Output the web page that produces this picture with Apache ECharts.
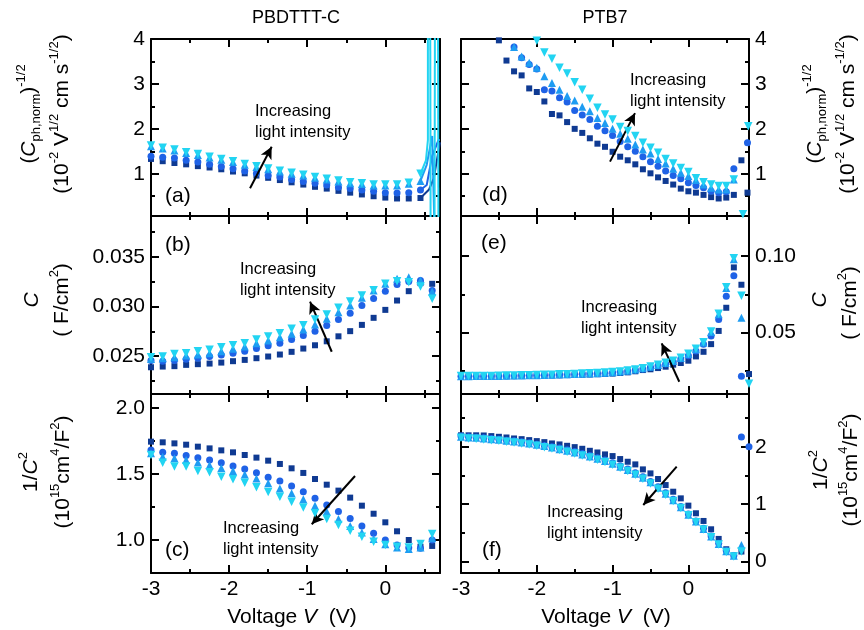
<!DOCTYPE html>
<html>
<head>
<meta charset="utf-8">
<script src="https://cdn.jsdelivr.net/npm/echarts@6/dist/echarts.min.js"></script>
<style>
html,body{margin:0;padding:0;background:#fff;}
#chart{width:864px;height:630px;}
</style>
</head>
<body>
<div id="chart"></div>
<script>
// ---- bias voltages (V) ----
const voltsLeft = [-3, -2.85, -2.7, -2.55, -2.4, -2.25, -2.1, -1.95, -1.8, -1.65, -1.5, -1.35, -1.2, -1.05, -0.9, -0.75, -0.6, -0.45, -0.3, -0.15, 0, 0.15, 0.3, 0.45, 0.6];
const voltsRight = [-3, -2.9, -2.8, -2.7, -2.6, -2.5, -2.4, -2.3, -2.2, -2.1, -2, -1.9, -1.8, -1.7, -1.6, -1.5, -1.4, -1.3, -1.2, -1.1, -1, -0.9, -0.8, -0.7, -0.6, -0.5, -0.4, -0.3, -0.2, -0.1, 0, 0.1, 0.2, 0.3, 0.4, 0.5, 0.6, 0.7];

// ---- PBDTTT-C: (C_ph,norm)^-1/2 ----
const aSq = [1.33,1.28,1.24,1.21,1.17,1.14,1.10,1.05,1.01,0.96,0.91,0.86,0.81,0.76,0.71,0.67,0.62,0.58,0.54,0.50,0.47,0.45,0.45,0.46];
const aCi = [1.39,1.37,1.35,1.30,1.26,1.21,1.16,1.11,1.06,1.01,0.96,0.93,0.87,0.83,0.79,0.75,0.70,0.67,0.64,0.61,0.58,0.57,0.58,0.64];
const aUp = [1.61,1.56,1.52,1.46,1.42,1.36,1.31,1.26,1.20,1.15,1.10,1.05,1.00,0.96,0.91,0.87,0.83,0.79,0.77,0.74,0.74,0.74,0.78,0.84];
const aDn = [1.63,1.58,1.54,1.48,1.44,1.38,1.33,1.28,1.22,1.17,1.12,1.07,1.02,0.98,0.93,0.89,0.85,0.81,0.79,0.76,0.76,0.76,0.80,1.00];
// traces running off scale near open circuit
const aSpikeSq = [[0.45,0.46],[0.56,0.65],[0.62,0.9],[0.7,1.7]];
const aSpikeCi = [[0.45,0.64],[0.53,0.75],[0.6,1.4],[0.68,1.75],[0.7,1.75]];
const aSpikeUp = [[0.45,0.84],[0.53,1.2],[0.6,1.84],[0.63,-0.3]];
const aSpikeDn1 = [[0.45,1.0],[0.52,1.3],[0.545,1.75],[0.545,4.3]];
const aSpikeDn2 = [[0.575,4.3],[0.58,-0.3]];
const aSpikeDn3 = [[0.63,-0.3],[0.635,4.3]];
const aSpikeDn4 = [[0.675,4.3],[0.68,-0.3]];

// ---- PBDTTT-C: C (F/cm2) ----
const bSq = [0.02389,0.02396,0.0240,0.02413,0.0242,0.02426,0.02436,0.0245,0.02463,0.0248,0.02497,0.02517,0.02544,0.02577,0.0261,0.0265,0.0270,0.02752,0.02815,0.02886,0.02966,0.0306,0.03154,0.03235,0.03228];
const bCi = [0.02456,0.0245,0.02456,0.0247,0.0248,0.02497,0.02513,0.0253,0.0255,0.02577,0.02604,0.02631,0.02668,0.02708,0.02752,0.02809,0.02869,0.02933,0.0301,0.03081,0.03154,0.03221,0.03252,0.03262,0.03161];
const bUp = [0.02473,0.0248,0.0249,0.02507,0.02517,0.0253,0.0255,0.02574,0.02597,0.02631,0.02658,0.02691,0.02725,0.02768,0.02819,0.02876,0.02943,0.0301,0.03087,0.03161,0.03228,0.03279,0.03295,0.03262,0.03151];
const bDn = [0.0249,0.02497,0.02523,0.0253,0.0255,0.02564,0.02591,0.02611,0.02631,0.02668,0.02698,0.02732,0.02775,0.02812,0.02869,0.02919,0.02987,0.0305,0.03111,0.03164,0.03228,0.03255,0.03245,0.03201,0.03077];
const bDnExtra = [[0.72,0.0290]];

// ---- PBDTTT-C: 1/C^2 ----
const cSq = [1.745,1.740,1.732,1.722,1.707,1.694,1.679,1.664,1.644,1.624,1.601,1.576,1.543,1.508,1.462,1.419,1.374,1.321,1.260,1.199,1.134,1.066,1.0,0.949,0.955];
const cCi = [1.682,1.664,1.657,1.641,1.624,1.606,1.586,1.561,1.538,1.510,1.475,1.447,1.409,1.366,1.316,1.265,1.215,1.162,1.106,1.051,1.0,0.962,0.942,0.937,1.0];
const cUp = [1.657,1.631,1.619,1.606,1.588,1.566,1.545,1.523,1.497,1.465,1.429,1.391,1.354,1.308,1.260,1.215,1.159,1.106,1.056,1.008,0.967,0.944,0.932,0.944,1.013];
const cDn = [1.644,1.586,1.556,1.556,1.523,1.513,1.480,1.460,1.434,1.399,1.364,1.328,1.290,1.247,1.202,1.159,1.114,1.071,1.025,0.987,0.962,0.949,0.944,0.970,1.045];
const cDnExtra = [[0.72,1.177]];

// ---- PTB7: (C_ph,norm)^-1/2 ----
const dSq = [null,null,null,null,null,3.97,3.52,3.28,3.19,2.90,2.82,2.61,2.33,2.30,2.15,2.00,1.91,1.79,1.67,1.60,1.49,1.38,1.30,1.21,1.10,1.01,0.92,0.84,0.76,0.67,0.61,0.58,0.53,0.48,0.45,0.47,0.53,1.30];
const dCi = [null,null,null,null,null,null,null,3.82,3.58,3.43,3.33,2.87,2.84,2.69,2.60,2.41,2.31,2.21,2.06,1.96,1.85,1.72,1.60,1.50,1.38,1.27,1.17,1.06,0.96,0.89,0.80,0.74,0.69,0.61,0.58,0.60,1.11,null];
const dUp = [null,null,null,null,null,null,null,3.82,3.61,3.47,3.36,3.17,3.02,2.87,2.73,2.63,2.49,2.39,2.24,2.13,2.00,1.89,1.78,1.65,1.54,1.45,1.33,1.23,1.11,1.02,0.95,0.86,0.76,0.69,0.65,0.65,0.87,null];
const dDn = [null,null,null,null,null,null,null,null,null,null,3.96,3.70,3.56,3.36,3.23,3.04,2.87,2.67,2.47,2.32,2.21,2.04,1.95,1.84,1.69,1.58,1.47,1.33,1.23,1.13,1.04,0.90,0.81,0.76,0.73,0.73,0.87,null];
const dSqExtra = [[0.78,0.58]];
const dCiExtra = [[0.78,1.69]];
const dDnExtra = [[0.72,0.10],[0.79,2.06]];

// ---- PTB7: C (F/cm2) ----
const eSq = [0.0213,0.0213,0.0214,0.0214,0.0215,0.0215,0.0216,0.0216,0.0217,0.0218,0.0219,0.0220,0.0221,0.0222,0.0223,0.0224,0.0226,0.0227,0.0229,0.0231,0.0233,0.0237,0.0241,0.0248,0.0256,0.0261,0.0269,0.0278,0.0291,0.0302,0.0317,0.0345,0.0375,0.0425,0.0511,0.0662,0.0925,0.0812];
const eCi = [0.0215,0.0215,0.0216,0.0216,0.0217,0.0217,0.0218,0.0219,0.0220,0.0221,0.0222,0.0223,0.0224,0.0225,0.0227,0.0228,0.0230,0.0232,0.0234,0.0236,0.0239,0.0243,0.0250,0.0256,0.0263,0.0274,0.0284,0.0295,0.0310,0.0328,0.0349,0.0381,0.0425,0.0478,0.0586,0.0737,0.0871,0.0216];
const eUp = [0.0216,0.0216,0.0217,0.0217,0.0218,0.0218,0.0219,0.0220,0.0221,0.0222,0.0223,0.0224,0.0225,0.0227,0.0228,0.0230,0.0232,0.0234,0.0236,0.0239,0.0242,0.0246,0.0252,0.0259,0.0267,0.0278,0.0289,0.0302,0.0315,0.0334,0.0360,0.0392,0.0435,0.0504,0.0619,0.0791,0.0978,0.0597];
const eDn = [0.0217,0.0217,0.0217,0.0218,0.0218,0.0219,0.0220,0.0221,0.0222,0.0223,0.0224,0.0225,0.0226,0.0228,0.0229,0.0231,0.0233,0.0235,0.0237,0.0240,0.0243,0.0247,0.0253,0.0260,0.0268,0.0279,0.0290,0.0303,0.0317,0.0336,0.0362,0.0395,0.0438,0.0508,0.0623,0.0795,0.0985,0.0741];
const eSqExtra = [[0.8,0.0230]];
const eDnExtra = [[0.8,0.0166]];

// ---- PTB7: 1/C^2 ----
const fSq = [2.20,2.20,2.20,2.197,2.186,2.174,2.162,2.145,2.133,2.116,2.099,2.081,2.058,2.041,2.017,1.994,1.965,1.930,1.901,1.867,1.838,1.786,1.739,1.693,1.606,1.536,1.438,1.333,1.217,1.101,0.974,0.841,0.707,0.562,0.394,0.214,0.104,0.174];
const fCi = [2.186,2.174,2.168,2.157,2.145,2.133,2.116,2.104,2.087,2.070,2.046,2.023,2.0,1.977,1.948,1.919,1.884,1.849,1.809,1.768,1.722,1.670,1.612,1.548,1.478,1.397,1.304,1.2,1.084,0.957,0.829,0.707,0.580,0.446,0.319,0.191,0.104,2.17];
const fUp = [2.174,2.162,2.157,2.145,2.133,2.122,2.104,2.093,2.075,2.058,2.035,2.012,1.988,1.959,1.930,1.901,1.867,1.832,1.791,1.751,1.704,1.652,1.594,1.530,1.461,1.380,1.287,1.183,1.067,0.945,0.817,0.696,0.568,0.435,0.307,0.180,0.099,0.29];
const fDn = [2.157,2.145,2.139,2.128,2.116,2.104,2.087,2.075,2.058,2.041,2.017,1.994,1.971,1.942,1.913,1.884,1.849,1.814,1.774,1.733,1.687,1.635,1.577,1.513,1.443,1.362,1.270,1.165,1.055,0.933,0.806,0.684,0.557,0.423,0.296,0.168,0.087,0.174];
const fCiExtra = [[0.8,2.0]];

// ---- tick values ----
const xMajor = [-3, -2, -1, 0];
const xMinor = [-2.5, -1.5, -0.5, 0.5];
const yMajorA = [1, 2, 3, 4], yMinorA = [0.5, 1.5, 2.5, 3.5];
const yMajorB = [0.025, 0.030, 0.035], yMinorB = [0.0225, 0.0275, 0.0325, 0.0375];
const yMajorC = [1.0, 1.5, 2.0], yMinorC = [0.75, 1.25, 1.75];
const yMajorE = [0.05, 0.10], yMinorE = [0.025, 0.075];
const yMajorF = [0, 1, 2], yMinorF = [0.5, 1.5, 2.5];

// ---- arrows (tail, head) in data units ----
const arrowA = [[-1.732, 0.676], [-1.455, 1.60]];
const arrowB = [[-0.686, 0.02545], [-0.964, 0.03048]];
const arrowC = [[-0.388, 1.485], [-0.942, 1.119]];
const arrowD = [[-1.034, 1.27], [-0.704, 2.35]];
const arrowE = [[-0.120, 0.0180], [-0.352, 0.0430]];
const arrowF = [[-0.154, 1.653], [-0.595, 0.985]];

const FONT = '"Liberation Sans", Arial, Helvetica, sans-serif';
const BLACK = '#000';
const MARKS = [
  { symbol: 'rect', size: 6, color: '#0f3a92', rotate: 0 },
  { symbol: 'circle', size: 7, color: '#1f62e6', rotate: 0 },
  { symbol: 'triangle', size: 8, color: '#1e9cf2', rotate: 0 },
  { symbol: 'triangle', size: 8.5, color: '#22d4f2', rotate: 180 }
];

function pts(xs, ys, extra) {
  const out = [];
  xs.forEach((x, i) => { if (ys[i] != null) out.push([x, ys[i]]); });
  return extra ? out.concat(extra) : out;
}

const panels = [
  { grid: { left: 151, top: 39, width: 289, height: 177 }, xMax: 0.7, yMin: 0.06, yMax: 4, major: yMajorA, minor: yMinorA, side: 'left', fmt: v => String(v), xLabels: false,
    data: [pts(voltsLeft, aSq), pts(voltsLeft, aCi), pts(voltsLeft, aUp), pts(voltsLeft, aDn)], arrow: arrowA },
  { grid: { left: 151, top: 216, width: 289, height: 178 }, xMax: 0.7, yMin: 0.0212, yMax: 0.0391, major: yMajorB, minor: yMinorB, side: 'left', fmt: v => v.toFixed(3), xLabels: false,
    data: [pts(voltsLeft, bSq), pts(voltsLeft, bCi), pts(voltsLeft, bUp), pts(voltsLeft, bDn, bDnExtra)], arrow: arrowB },
  { grid: { left: 151, top: 394, width: 289, height: 179 }, xMax: 0.7, yMin: 0.75, yMax: 2.106, major: yMajorC, minor: yMinorC, side: 'left', fmt: v => v.toFixed(1), xLabels: true,
    data: [pts(voltsLeft, cSq), pts(voltsLeft, cCi), pts(voltsLeft, cUp), pts(voltsLeft, cDn, cDnExtra)], arrow: arrowC },
  { grid: { left: 461, top: 39, width: 288, height: 177 }, xMax: 0.8, yMin: 0.06, yMax: 4, major: yMajorA, minor: yMinorA, side: 'right', fmt: v => String(v), xLabels: false,
    data: [pts(voltsRight, dSq, dSqExtra), pts(voltsRight, dCi, dCiExtra), pts(voltsRight, dUp), pts(voltsRight, dDn, dDnExtra)], arrow: arrowD },
  { grid: { left: 461, top: 216, width: 288, height: 178 }, xMax: 0.8, yMin: 0.010, yMax: 0.126, major: yMajorE, minor: yMinorE, side: 'right', fmt: v => v.toFixed(2), xLabels: false,
    data: [pts(voltsRight, eSq, eSqExtra), pts(voltsRight, eCi), pts(voltsRight, eUp), pts(voltsRight, eDn, eDnExtra)], arrow: arrowE },
  { grid: { left: 461, top: 394, width: 288, height: 179 }, xMax: 0.8, yMin: -0.2, yMax: 2.92, major: yMajorF, minor: yMinorF, side: 'right', fmt: v => String(v), xLabels: true,
    data: [pts(voltsRight, fSq), pts(voltsRight, fCi, fCiExtra), pts(voltsRight, fUp), pts(voltsRight, fDn)], arrow: arrowF }
];

const labelStyle = { fontSize: 21, fontFamily: FONT, color: BLACK };

// one visible axis (line, long ticks, optional labels) plus a bare axis carrying the short ticks
function axisSet(g, min, max, pos, major, minor, showLabels, fmt, showLine) {
  const base = { type: 'value', gridIndex: g, min: min, max: max, position: pos, splitLine: { show: false } };
  return [
    Object.assign({}, base, {
      axisLine: { show: showLine, onZero: false, lineStyle: { color: BLACK, width: 2 } },
      axisTick: { show: true, inside: true, length: 8, customValues: major, lineStyle: { color: BLACK, width: 2 } },
      axisLabel: Object.assign({ show: showLabels, customValues: major, formatter: fmt, margin: 6 }, labelStyle)
    }),
    Object.assign({}, base, {
      axisLine: { show: false, onZero: false },
      axisTick: { show: true, inside: true, length: 4, customValues: minor, lineStyle: { color: BLACK, width: 2 } },
      axisLabel: { show: false }
    })
  ];
}

const grids = [], xAxes = [], yAxes = [], series = [];
panels.forEach((p, g) => {
  grids.push(Object.assign({ outerBoundsMode: 'none', containLabel: false }, p.grid));
  const xi = xAxes.length, yi = yAxes.length;
  // bottom (primary), then top mirror
  xAxes.push(...axisSet(g, -3, p.xMax, 'bottom', xMajor, xMinor, p.xLabels, v => String(v), true));
  xAxes.push(...axisSet(g, -3, p.xMax, 'top', xMajor, xMinor, false, null, true));
  const other = p.side === 'left' ? 'right' : 'left';
  yAxes.push(...axisSet(g, p.yMin, p.yMax, p.side, p.major, p.minor, true, p.fmt, true));
  yAxes.push(...axisSet(g, p.yMin, p.yMax, other, p.major, p.minor, false, null, true));
  p.data.forEach((d, k) => {
    const m = MARKS[k];
    const s = {
      type: 'scatter', xAxisIndex: xi, yAxisIndex: yi, data: d,
      symbol: m.symbol, symbolSize: m.size, symbolRotate: m.rotate,
      itemStyle: { color: m.color, opacity: 1 }, silent: true, clip: true, z: 2 + k
    };
    if (k === 0) {
      s.markLine = {
        silent: true, symbol: ['none', 'arrow'], symbolSize: [9, 12], animation: false,
        label: { show: false }, emphasis: { disabled: true },
        lineStyle: { color: BLACK, width: 2, type: 'solid' },
        data: [[{ coord: p.arrow[0] }, { coord: p.arrow[1] }]]
      };
    }
    series.push(s);
  });
  if (g === 0) {
    const spikes = [[aSpikeSq, 0], [aSpikeCi, 1], [aSpikeUp, 2], [aSpikeDn1, 3], [aSpikeDn2, 3], [aSpikeDn3, 3], [aSpikeDn4, 3]];
    spikes.forEach(([d, k]) => {
      series.push({
        type: 'line', xAxisIndex: xi, yAxisIndex: yi, data: d, showSymbol: false, clip: true, silent: true,
        lineStyle: { color: MARKS[k].color, width: 2 }, z: 2 + k
      });
    });
  }
});

// ---- text ----
const rich = {
  i: { fontStyle: 'italic', fontSize: 21, fontFamily: FONT, lineHeight: 28 },
  sup: { fontSize: 13, fontFamily: FONT, lineHeight: 14, verticalAlign: 'top' },
  sub: { fontSize: 13, fontFamily: FONT, lineHeight: 14, verticalAlign: 'bottom' }
};
function txt(x, y, text, size, align, lh) {
  return {
    type: 'text', x: x, y: y, silent: true,
    style: { text: text, fontSize: size, fontFamily: FONT, fill: BLACK, align: align, verticalAlign: 'middle', textAlign: align, textVerticalAlign: 'middle', lineHeight: lh || 21, rich: rich }
  };
}
function vtxt(x, y, text) {
  return {
    type: 'text', x: x, y: y, rotation: Math.PI / 2, silent: true,
    style: { text: text, fontSize: 21, fontFamily: FONT, fill: BLACK, lineHeight: 28, align: 'center', verticalAlign: 'middle', textAlign: 'center', textVerticalAlign: 'middle', rich: rich }
  };
}

const NOTE = 'Increasing\nlight intensity';
const graphics = [
  txt(296, 18, 'PBDTTT-C', 18, 'center'),
  txt(605, 18, 'PTB7', 18, 'center'),
  txt(292, 617, 'Voltage {i|V}  (V)', 21, 'center'),
  txt(606, 617, 'Voltage {i|V}  (V)', 21, 'center'),
  txt(165, 196, '(a)', 21, 'left'),
  txt(165, 245, '(b)', 21, 'left'),
  txt(165, 550, '(c)', 21, 'left'),
  txt(482, 195, '(d)', 21, 'left'),
  txt(481, 243, '(e)', 21, 'left'),
  txt(482, 550, '(f)', 21, 'left'),
  txt(255, 122, NOTE, 16.5, 'left', 21),
  txt(240, 280, NOTE, 16.5, 'left', 21),
  txt(223, 539, NOTE, 16.5, 'left', 21),
  txt(630, 91, NOTE, 16.5, 'left', 21),
  txt(581, 318, NOTE, 16.5, 'left', 21),
  txt(547, 523, NOTE, 16.5, 'left', 21),
  vtxt(29, 114, '({i|C}{sub|ph,norm}){sup|-1/2}'),
  vtxt(62, 114, '(10{sup|-2} V{sup|1/2} cm s{sup|-1/2})'),
  vtxt(32, 300, '{i|C}'),
  vtxt(62, 300, '( F/cm{sup|2})'),
  vtxt(31, 472, '1/{i|C}{sup|2}'),
  vtxt(63, 472, '(10{sup|15}cm{sup|4}/F{sup|2})'),
  vtxt(815, 114, '({i|C}{sub|ph,norm}){sup|-1/2}'),
  vtxt(848, 114, '(10{sup|-2} V{sup|1/2} cm s{sup|-1/2})'),
  vtxt(820, 300, '{i|C}'),
  vtxt(850, 303, '( F/cm{sup|2})'),
  vtxt(821, 470, '1/{i|C}{sup|2}'),
  vtxt(851, 470, '(10{sup|15}cm{sup|4}/F{sup|2})')
];

const chart = echarts.init(document.getElementById('chart'), null, { renderer: 'canvas' });
chart.setOption({
  backgroundColor: '#fff',
  animation: false,
  grid: grids,
  xAxis: xAxes,
  yAxis: yAxes,
  series: series,
  graphic: { elements: graphics }
});
</script>
</body>
</html>
